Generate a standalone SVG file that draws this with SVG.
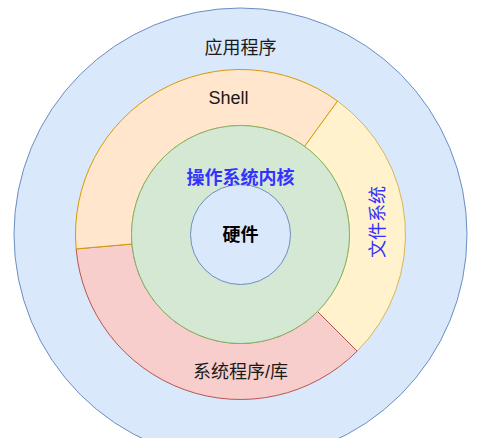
<svg xmlns="http://www.w3.org/2000/svg" width="486" height="438" viewBox="0 0 486 438">
<style>
.t{font-family:"Liberation Sans","Noto Sans CJK SC",sans-serif;font-size:18px;text-anchor:middle;fill:#1a1a1a}
.c{dominant-baseline:central}
.b{font-weight:bold}
.blue{fill:#3333ff}
</style>
<rect width="486" height="438" fill="#ffffff"/>
<g id="app">
<circle cx="240.5" cy="234.5" r="226.5" fill="#dae8fc" stroke="#6c8ebf" stroke-width="1"/>
<text class="t c" x="240.5" y="48">应用程序</text>
</g>
<g id="filesystem">
<path d="M337.5,101 A165,165 0 0 1 357.17,351.17 L317.57,311.57 A109,109 0 0 0 304.57,146.32 Z" fill="#fff2cc" stroke="#d6b656"/>
<text class="t c blue" transform="translate(378,222) rotate(-90)" x="0" y="0">文件系统</text>
</g>
<g id="syslib">
<path d="M357.17,351.17 A165,165 0 0 1 76.13,248.88 L131.92,244 A109,109 0 0 0 317.57,311.57 Z" fill="#f8cecc" stroke="#b85450"/>
<text class="t c" x="240.5" y="372">系统程序/库</text>
</g>
<g id="shell">
<path d="M76.13,248.88 A165,165 0 0 1 337.5,101 L304.57,146.32 A109,109 0 0 0 131.92,244 Z" fill="#ffe6cc" stroke="#d79b00"/>
<text class="t" x="228.5" y="104">Shell</text>
</g>
<g id="kernel">
<circle cx="240.5" cy="234.5" r="109" fill="#d5e8d4" stroke="#82b366"/>
</g>
<g id="hardware">
<circle cx="240.5" cy="234.5" r="50" fill="#dae8fc" stroke="#6c8ebf"/>
<text class="t c b" x="240.5" y="234.5" style="fill:#000">硬件</text>
</g>
<g id="kernel-label">
<text class="t c b blue" x="240.5" y="177.5">操作系统内核</text>
</g>
<g id="connectors"/>
</svg>
